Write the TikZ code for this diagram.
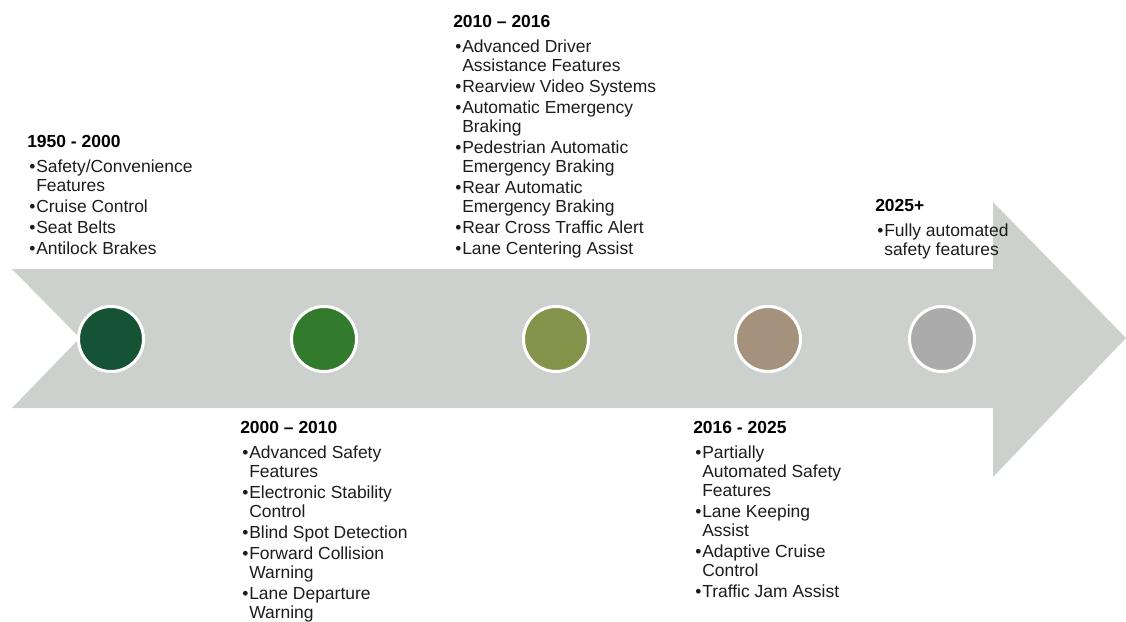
\documentclass[tikz,border=0pt]{standalone}
\usepackage{fontspec}
\setmainfont{Liberation Sans}
\definecolor{band}{HTML}{CDD1CD}
\definecolor{txt}{HTML}{1C1C1C}
\definecolor{cA}{HTML}{155334}
\definecolor{cB}{HTML}{337B2C}
\definecolor{cC}{HTML}{84934A}
\definecolor{cD}{HTML}{A5927C}
\definecolor{cE}{HTML}{ABABAB}
% bullet column width and bullet item with hanging indent
\newlength\bw \setlength\bw{6.75pt}
\newcommand\itm{\par\hangindent=\bw\hangafter=1\noindent\makebox[\bw][l]{\hspace{1.5pt}\textbullet}}
\newcommand\eratext[2]{\parbox[t]{220pt}{\fontsize{13.1pt}{14.25pt}\selectfont\setlength\parskip{1.5pt}\noindent{\bfseries\color{black}#1}\par\vspace{3pt}#2}}
\begin{document}
\begin{tikzpicture}[x=0.75pt,y=-0.75pt,
  era/.style={anchor=base west, inner sep=0pt, text=txt},
  dot/.style={circle, draw=white, line width=2.25pt, minimum size=48.75pt, inner sep=0pt}]
\useasboundingbox (0,0) rectangle (1126,621);
% timeline band with notched tail and arrow head
\fill[band] (12,269) -- (993,269) -- (993,202) -- (1126,338) -- (993,477)
  -- (993,408) -- (12,408) -- (80,338) -- cycle;
% milestones
\node[dot, fill=cA] (m1) at (111,339) {};
\node[dot, fill=cB] (m2) at (324,339) {};
\node[dot, fill=cC] (m3) at (556,339) {};
\node[dot, fill=cD] (m4) at (768,339) {};
\node[dot, fill=cE] (m5) at (942,339) {};
% era descriptions
\node[era] (e1) at (27,147) {\eratext{1950 - 2000}{\itm Safety/Convenience\\Features\itm Cruise Control\itm Seat Belts\itm Antilock Brakes}};
\node[era] (e2) at (240,433) {\eratext{2000 – 2010}{\itm Advanced Safety\\Features\itm Electronic Stability\\Control\itm Blind Spot Detection\itm Forward Collision\\Warning\itm Lane Departure\\Warning}};
\node[era] (e3) at (453,27) {\eratext{2010 – 2016}{\itm Advanced Driver\\Assistance Features\itm Rearview Video Systems\itm Automatic Emergency\\Braking\itm Pedestrian Automatic\\Emergency Braking\itm Rear Automatic\\Emergency Braking\itm Rear Cross Traffic Alert\itm Lane Centering Assist}};
\node[era] (e4) at (693,433) {\eratext{2016 - 2025}{\itm Partially\\Automated Safety\\Features\itm Lane Keeping\\Assist\itm Adaptive Cruise\\Control\itm Traffic Jam Assist}};
\node[era] (e5) at (875,211) {\eratext{2025+}{\itm Fully automated\\safety features}};
\end{tikzpicture}
\end{document}
